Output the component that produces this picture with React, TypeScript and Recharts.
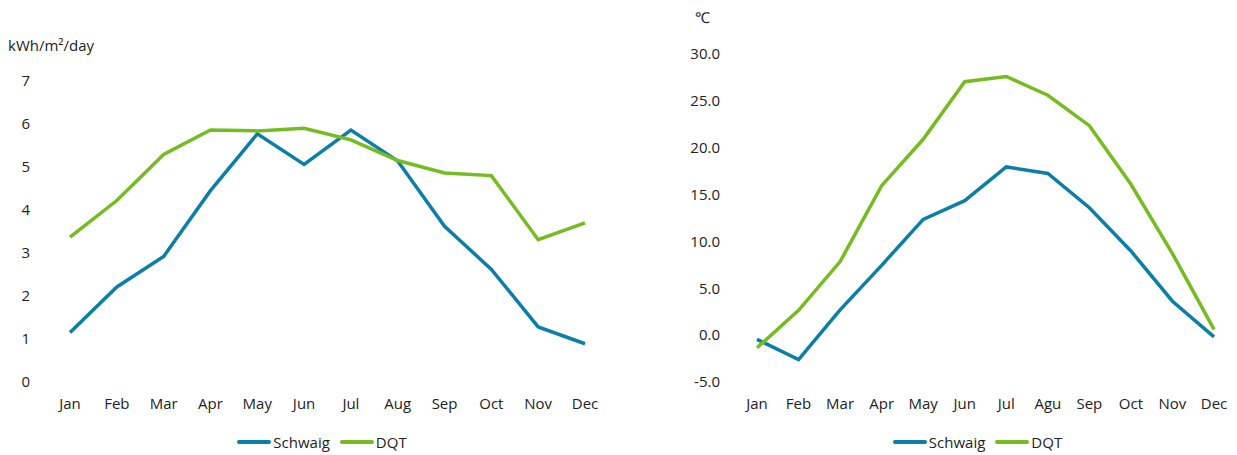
import React from "react"
import { LineChart, Line, XAxis, YAxis, Legend } from "recharts"

// left panel: irradiation
const monthsLeft = ["Jan", "Feb", "Mar", "Apr", "May", "Jun", "Jul", "Aug", "Sep", "Oct", "Nov", "Dec"]
const schwaigIrr = [1.15, 2.21, 2.92, 4.45, 5.77, 5.06, 5.86, 5.14, 3.62, 2.62, 1.28, 0.89]
const dqtIrr = [3.37, 4.22, 5.29, 5.86, 5.84, 5.9, 5.63, 5.15, 4.86, 4.8, 3.31, 3.7]
const irrTicks = [0, 1, 2, 3, 4, 5, 6, 7]

// right panel: temperature
const monthsRight = ["Jan", "Feb", "Mar", "Apr", "May", "Jun", "Jul", "Agu", "Sep", "Oct", "Nov", "Dec"]
const schwaigTemp = [-0.45, -2.6, 2.7, 7.45, 12.35, 14.35, 17.95, 17.25, 13.6, 8.98, 3.62, -0.18]
const dqtTemp = [-1.35, 2.65, 7.85, 15.95, 20.9, 27.05, 27.6, 25.6, 22.35, 16.1, 8.7, 0.62]
const tempTicks = [-5, 0, 5, 10, 15, 20, 25, 30]

const seriesOrder = ["Schwaig", "DQT"]

const BLUE = "#0b7fa5"
const GREEN = "#76bc21"
const FONT = "'Open Sans', sans-serif"
const TEXT = "#222"

const leftData = monthsLeft.map((m, i) => ({ month: m, Schwaig: schwaigIrr[i], DQT: dqtIrr[i] }))
const rightData = monthsRight.map((m, i) => ({ month: m, Schwaig: schwaigTemp[i], DQT: dqtTemp[i] }))

const tickStyle = { fill: TEXT, fontSize: 15, fontFamily: FONT }

function LegendContent(props: any) {
  const items = [...(props.payload || [])].sort(
    (a: any, b: any) => seriesOrder.indexOf(a.value) - seriesOrder.indexOf(b.value)
  )
  return (
    <div
      style={{
        display: "flex",
        justifyContent: "center",
        alignItems: "center",
        height: 20,
        paddingLeft: props.shift || 0,
        fontFamily: FONT,
        fontSize: 15,
        color: TEXT,
      }}
    >
      {items.map((it: any, i: number) => (
        <div key={it.value} style={{ display: "flex", alignItems: "center", marginLeft: i > 0 ? 10 : 0 }}>
          <svg width={34} height={6} style={{ marginRight: 2 }}>
            <line x1={2} y1={3} x2={32} y2={3} stroke={it.color} strokeWidth={4} strokeLinecap="round" />
          </svg>
          <span>{it.value}</span>
        </div>
      ))}
    </div>
  )
}

export default function App() {
  return (
    <div style={{ position: "absolute", left: 0, top: 0, width: 1237, height: 455, background: "#fff" }}>
      <div style={{ position: "absolute", left: 8, top: 35, fontFamily: FONT, fontSize: 15, color: TEXT }}>
        kWh/m²/day
      </div>
      <div style={{ position: "absolute", left: 695, top: 7, fontFamily: FONT, fontSize: 15, color: TEXT }}>
        ℃
      </div>

      <div style={{ position: "absolute", left: 0, top: 0 }}>
        <LineChart width={620} height={455} data={leftData} margin={{ top: 81, right: 12, bottom: 3, left: 0 }}>
          <XAxis
            dataKey="month"
            axisLine={false}
            tickLine={false}
            tickSize={0}
            tickMargin={16}
            height={50}
            tick={tickStyle}
            interval={0}
            padding={{ left: 23, right: 23 }}
          />
          <YAxis domain={[0, 7]} ticks={irrTicks} axisLine={false} tickLine={false} tickSize={0} tickMargin={17} width={47} tick={tickStyle} />
          <Legend verticalAlign="bottom" height={20} content={<LegendContent shift={36} />} />
          <Line type="linear" dataKey="Schwaig" stroke={BLUE} strokeWidth={3.5} dot={false} isAnimationActive={false} />
          <Line type="linear" dataKey="DQT" stroke={GREEN} strokeWidth={3.5} dot={false} isAnimationActive={false} />
        </LineChart>
      </div>

      <div style={{ position: "absolute", left: 640, top: 0 }}>
        <LineChart width={597} height={455} data={rightData} margin={{ top: 54, right: 2, bottom: 3, left: 0 }}>
          <XAxis
            dataKey="month"
            axisLine={false}
            tickLine={false}
            tickSize={0}
            tickMargin={16}
            height={50}
            tick={tickStyle}
            interval={0}
            padding={{ left: 21, right: 21 }}
          />
          <YAxis
            domain={[-5, 30]}
            ticks={tempTicks}
            axisLine={false}
            tickLine={false}
            tickSize={0}
            tickMargin={16}
            width={96}
            tick={tickStyle}
            tickFormatter={(v: number) => v.toFixed(1)}
          />
          <Legend verticalAlign="bottom" height={20} content={<LegendContent shift={80} />} />
          <Line type="linear" dataKey="Schwaig" stroke={BLUE} strokeWidth={3.5} dot={false} isAnimationActive={false} />
          <Line type="linear" dataKey="DQT" stroke={GREEN} strokeWidth={3.5} dot={false} isAnimationActive={false} />
        </LineChart>
      </div>
    </div>
  )
}
